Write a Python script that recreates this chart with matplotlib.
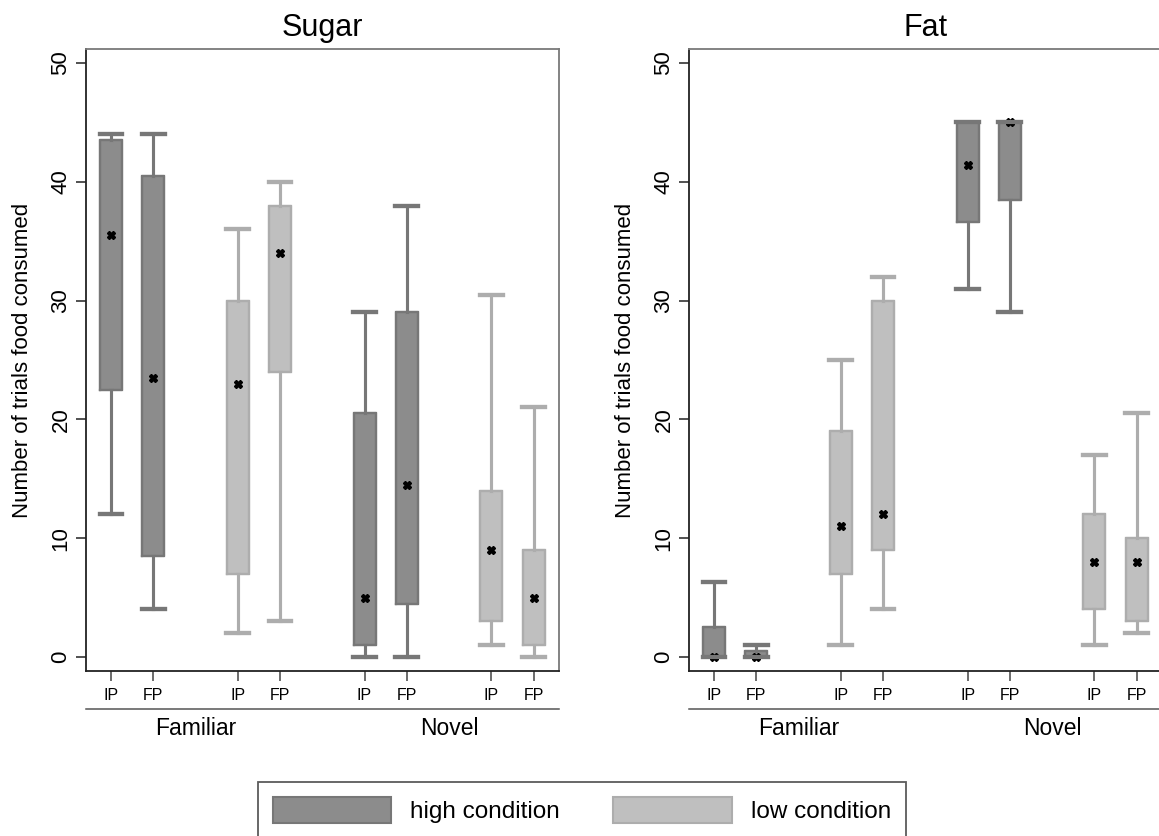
import matplotlib
matplotlib.use("Agg")
import matplotlib.pyplot as plt
from matplotlib.patches import Patch

plt.rcParams['font.family'] = ['Liberation Sans', 'DejaVu Sans']

# Data: five-number summaries [whisker low, q1, median, q3, whisker high]
# order within each list: Familiar IP, Familiar FP, Novel IP, Novel FP
groups = ["Familiar", "Novel"]
phases = ["IP", "FP"]
conditions = ["high condition", "low condition"]
panels = ["Sugar", "Fat"]

sugar_high = [[12, 22.5, 35.5, 43.5, 44],
              [4, 8.5, 23.5, 40.5, 44],
              [0, 1, 5, 20.5, 29],
              [0, 4.5, 14.5, 29, 38]]
sugar_low = [[2, 7, 23, 30, 36],
             [3, 24, 34, 38, 40],
             [1, 3, 9, 14, 30.5],
             [0, 1, 5, 9, 21]]
fat_high = [[0, 0, 0, 2.5, 6.3],
            [0, 0, 0, 0.5, 1],
            [31, 36.6, 41.4, 45, 45],
            [29, 38.5, 45, 45, 45]]
fat_low = [[1, 7, 11, 19, 25],
           [4, 9, 12, 30, 32],
           [1, 4, 8, 12, 17],
           [2, 3, 8, 10, 20.5]]

panel_data = {"Sugar": (sugar_high, sugar_low), "Fat": (fat_high, fat_low)}

fill_cols = ["#8c8c8c", "#bfbfbf"]
edge_cols = ["#777777", "#adadad"]


def to_stats(rows):
    keys = ["whislo", "q1", "med", "q3", "whishi"]
    return [dict(zip(keys, r)) for r in rows]


fig = plt.figure(figsize=(11.59, 8.36), dpi=100)
ax_rects = [[0.0742, 0.1974, 0.4081, 0.7440],
            [0.5945, 0.1974, 0.4081, 0.7440]]

for name, rect in zip(panels, ax_rects):
    ax = fig.add_axes(rect)
    series = panel_data[name]
    # positions: group g, condition c, phase p -> 6g + 3c + p
    all_pos, all_lab = [], []
    for c, rows in enumerate(series):
        pos = []
        for g in range(len(groups)):
            for p in range(len(phases)):
                pos.append(6 * g + 3 * c + p)
        stats = to_stats(rows)
        common = dict(positions=pos, widths=0.52, capwidths=0.54,
                      showfliers=False,
                      whiskerprops=dict(color=edge_cols[c], lw=2.2),
                      capprops=dict(color=edge_cols[c], lw=3.0),
                      medianprops=dict(linestyle="none"))
        ax.bxp(stats, patch_artist=True, zorder=2,
               boxprops=dict(facecolor=fill_cols[c], edgecolor=edge_cols[c], lw=1.6),
               **common)
        # median markers sit under the outlines, as in the original
        ax.plot(pos, [r[2] for r in rows], linestyle="none", marker="X",
                ms=5.5, color="black", mec="black", zorder=3)
        ax.bxp(stats, patch_artist=False, zorder=4,
               boxprops=dict(color=edge_cols[c], lw=1.6), **common)
        all_pos += pos
        all_lab += [phases[i % 2] for i in range(len(pos))]

    order = sorted(range(len(all_pos)), key=lambda i: all_pos[i])
    ax.set_xticks([all_pos[i] for i in order])
    ax.set_xticklabels([all_lab[i] for i in order], fontsize=11.5)
    ax.set_xlim(-0.59, 10.6)
    ax.set_ylim(-1.18, 51.18)
    ax.set_yticks(range(0, 51, 10))
    ax.tick_params(axis="y", labelsize=16, length=7, width=1.1, pad=3.5,
                   labelrotation=90, color="#222222")
    for lab in ax.get_yticklabels():
        lab.set_va("center")
    ax.tick_params(axis="x", length=7, width=1.1, pad=5, color="#444444")

    for s in ["left", "bottom"]:
        ax.spines[s].set_color("#222222")
        ax.spines[s].set_linewidth(1.3)
    for s in ["top", "right"]:
        ax.spines[s].set_color("#7a7a7a")
        ax.spines[s].set_linewidth(1.3)

    ax.set_ylabel("Number of trials food consumed", fontsize=16)
    ax.yaxis.set_label_coords(-0.112, 0.5)
    ax.set_title(name, fontsize=22, pad=9)

    # group line and labels beneath the phase labels
    ax.plot([0, 1], [-0.061, -0.061], transform=ax.transAxes, color="#555555",
            lw=1.1, clip_on=False)
    tr = ax.get_xaxis_transform()
    for g, gname in enumerate(groups):
        ax.text(6 * g + 2, -0.092, gname, transform=tr, ha="center",
                va="center", fontsize=16.5)

handles = [Patch(facecolor=fill_cols[i], edgecolor=edge_cols[i], lw=1.5)
           for i in range(len(conditions))]
leg = fig.legend(handles, conditions, loc="center",
                 bbox_to_anchor=(582 / 1159, 1 - 810 / 836), ncol=2,
                 fontsize=17.5, frameon=True, fancybox=False,
                 handlelength=4.86, handleheight=1.28, handletextpad=0.8,
                 columnspacing=2.2, borderpad=0.6)
leg.get_frame().set_edgecolor("#333333")
leg.get_frame().set_linewidth(1.3)

fig.savefig("out.png", dpi=100)
